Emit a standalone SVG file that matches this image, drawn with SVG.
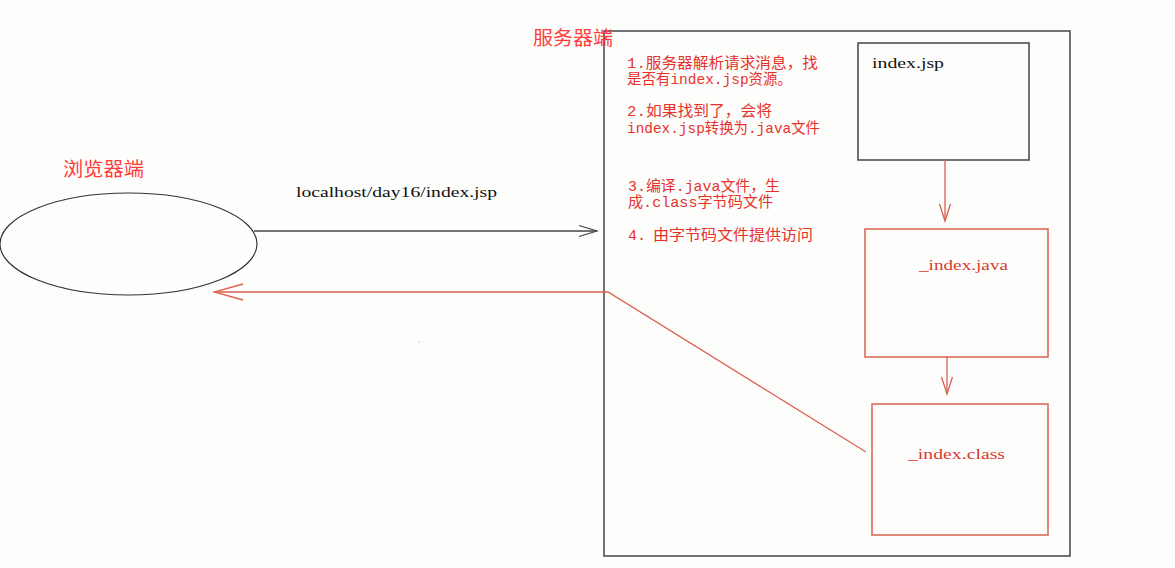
<svg xmlns="http://www.w3.org/2000/svg" width="1175" height="568" viewBox="0 0 1175 568">
<style>
.red{fill:#e8312b;font-family:"Liberation Mono","Noto Sans CJK SC",monospace;font-size:15px}
.head{fill:#ff3b3b;font-family:"Noto Sans CJK SC",sans-serif;font-size:19px}
.mono{font-family:"Liberation Serif","Noto Sans CJK SC",serif;font-size:15px}
.rbox{fill:none;stroke:#d9604f;stroke-width:1.5}
.kbox{fill:none;stroke:#444;stroke-width:1.5}
.rl{stroke:#d9604f;stroke-width:1.3;fill:none}
.kl{stroke:#444;stroke-width:1.3;fill:none}
</style>
<defs>
<marker id="aBig" viewBox="-32 -10 34 20" refX="0" refY="0" markerWidth="34" markerHeight="20" markerUnits="userSpaceOnUse" orient="auto"><path d="M-29,-8 L0,0 L-29,8" fill="none" stroke="#d9604f" stroke-width="1.3"/></marker>
<marker id="aBlk" viewBox="-22 -8 24 16" refX="0" refY="0" markerWidth="24" markerHeight="16" markerUnits="userSpaceOnUse" orient="auto"><path d="M-18,-5.5 L0,0 L-18,5.5" fill="none" stroke="#444" stroke-width="1.3"/></marker>
<marker id="aDn" viewBox="-20 -8 22 16" refX="0" refY="0" markerWidth="22" markerHeight="16" markerUnits="userSpaceOnUse" orient="auto"><path d="M-17,-5.5 L0,0 L-17,5.5" fill="none" stroke="#d9604f" stroke-width="1.3"/></marker>
</defs>
<rect width="1175" height="568" fill="#fdfefc"/>

<g id="browser">
<ellipse cx="128.5" cy="244" rx="128.5" ry="51" fill="none" stroke="#333" stroke-width="1.2"/>
<text class="head" x="63" y="176" textLength="81" lengthAdjust="spacingAndGlyphs">浏览器端</text>
</g>

<g id="server">
<rect x="604" y="31" width="466" height="525" fill="none" stroke="#444" stroke-width="1.5"/>
<text class="head" x="533" y="45" textLength="80" lengthAdjust="spacingAndGlyphs">服务器端</text>
<text class="red" x="627" y="68" textLength="191" lengthAdjust="spacingAndGlyphs">1.服务器解析请求消息，找</text>
<text class="red" x="627" y="84" textLength="165" lengthAdjust="spacingAndGlyphs">是否有index.jsp资源。</text>
<text class="red" x="627" y="116" textLength="145" lengthAdjust="spacingAndGlyphs">2.如果找到了，会将</text>
<text class="red" x="627" y="133" textLength="193" lengthAdjust="spacingAndGlyphs">index.jsp转换为.java文件</text>
<text class="red" x="628" y="191" textLength="152" lengthAdjust="spacingAndGlyphs">3.编译.java文件，生</text>
<text class="red" x="628" y="207" textLength="145" lengthAdjust="spacingAndGlyphs">成.class字节码文件</text>
<text class="red" x="628" y="240">4.</text>
<text class="red" x="653" y="240" textLength="160" lengthAdjust="spacingAndGlyphs">由字节码文件提供访问</text>
</g>

<g id="indexjsp">
<rect class="kbox" x="858" y="43" width="171" height="117"/>
<text class="mono" x="872" y="68" fill="#111" textLength="72" lengthAdjust="spacingAndGlyphs">index.jsp</text>
</g>

<g id="indexjava">
<rect class="rbox" x="865" y="229" width="183" height="128"/>
<text class="mono" x="919" y="270" fill="#d93a2e" textLength="89" lengthAdjust="spacingAndGlyphs">_index.java</text>
</g>

<g id="indexclass">
<rect class="rbox" x="872" y="404" width="176" height="131"/>
<text class="mono" x="908" y="459" fill="#d93a2e" textLength="97" lengthAdjust="spacingAndGlyphs">_index.class</text>
</g>

<g id="connectors">
<line class="kl" x1="254" y1="231" x2="597" y2="231" marker-end="url(#aBlk)"/>
<text class="mono" x="296" y="197" fill="#111" textLength="201" lengthAdjust="spacingAndGlyphs">localhost/day16/index.jsp</text>
<polyline class="rl" points="866,452 608,292 214,292" marker-end="url(#aBig)"/>
<line class="rl" x1="945" y1="160" x2="945" y2="221" marker-end="url(#aDn)"/>
<line class="rl" x1="947" y1="357" x2="947" y2="394" marker-end="url(#aDn)"/>
<circle cx="419" cy="342" r="0.6" fill="#999"/>
</g>
</svg>
